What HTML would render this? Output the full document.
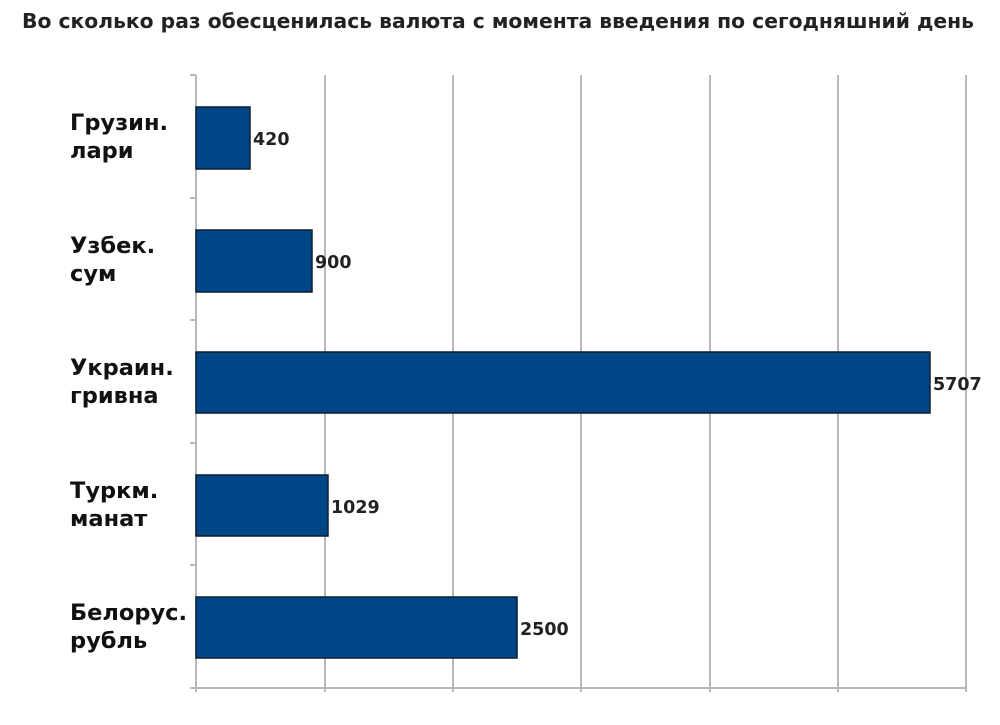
<!DOCTYPE html>
<html><head><meta charset="utf-8"><style>body{margin:0;background:#fff}svg{display:block}</style></head><body>
<svg width="1000" height="725" xmlns="http://www.w3.org/2000/svg" font-family="DejaVu Sans, Liberation Sans, sans-serif">
<rect width="1000" height="725" fill="#fff"/>
<text x="498" y="28" text-anchor="middle" font-size="20.5" font-weight="bold" fill="#222" textLength="952" lengthAdjust="spacingAndGlyphs">Во сколько раз обесценилась валюта с момента введения по сегодняшний день</text>
<g stroke="#b8b8b8" stroke-width="2">
<line x1="325" y1="75" x2="325" y2="692"/><line x1="453" y1="75" x2="453" y2="692"/><line x1="581" y1="75" x2="581" y2="692"/><line x1="710" y1="75" x2="710" y2="692"/><line x1="838" y1="75" x2="838" y2="692"/><line x1="966" y1="75" x2="966" y2="692"/>
<line x1="196" y1="75" x2="196" y2="692"/><line x1="190" y1="688" x2="967" y2="688"/>
<line x1="190" y1="75" x2="196" y2="75"/><line x1="190" y1="198" x2="196" y2="198"/><line x1="190" y1="320" x2="196" y2="320"/><line x1="190" y1="443" x2="196" y2="443"/><line x1="190" y1="565" x2="196" y2="565"/>
</g>
<g fill="#004586" stroke="#0d1f33" stroke-width="1.5">
<rect x="196" y="107" width="54" height="62"/>
<rect x="196" y="230" width="116" height="62"/>
<rect x="196" y="352" width="734" height="61"/>
<rect x="196" y="475" width="132" height="61"/>
<rect x="196" y="597" width="321" height="61"/>
</g>
<g font-size="17.5" font-weight="bold" fill="#222">
<text x="253" y="145">420</text>
<text x="315" y="268">900</text>
<text x="933" y="390">5707</text>
<text x="331" y="513">1029</text>
<text x="520" y="635">2500</text>
</g>
<g font-size="22.5" font-weight="bold" fill="#111">
<text x="70" y="130">Грузин.</text><text x="70" y="158">лари</text>
<text x="70" y="253">Узбек.</text><text x="70" y="281">сум</text>
<text x="70" y="375">Украин.</text><text x="70" y="403">гривна</text>
<text x="70" y="498">Туркм.</text><text x="70" y="526">манат</text>
<text x="70" y="620">Белорус.</text><text x="70" y="648">рубль</text>
</g>
</svg>
</body></html>
